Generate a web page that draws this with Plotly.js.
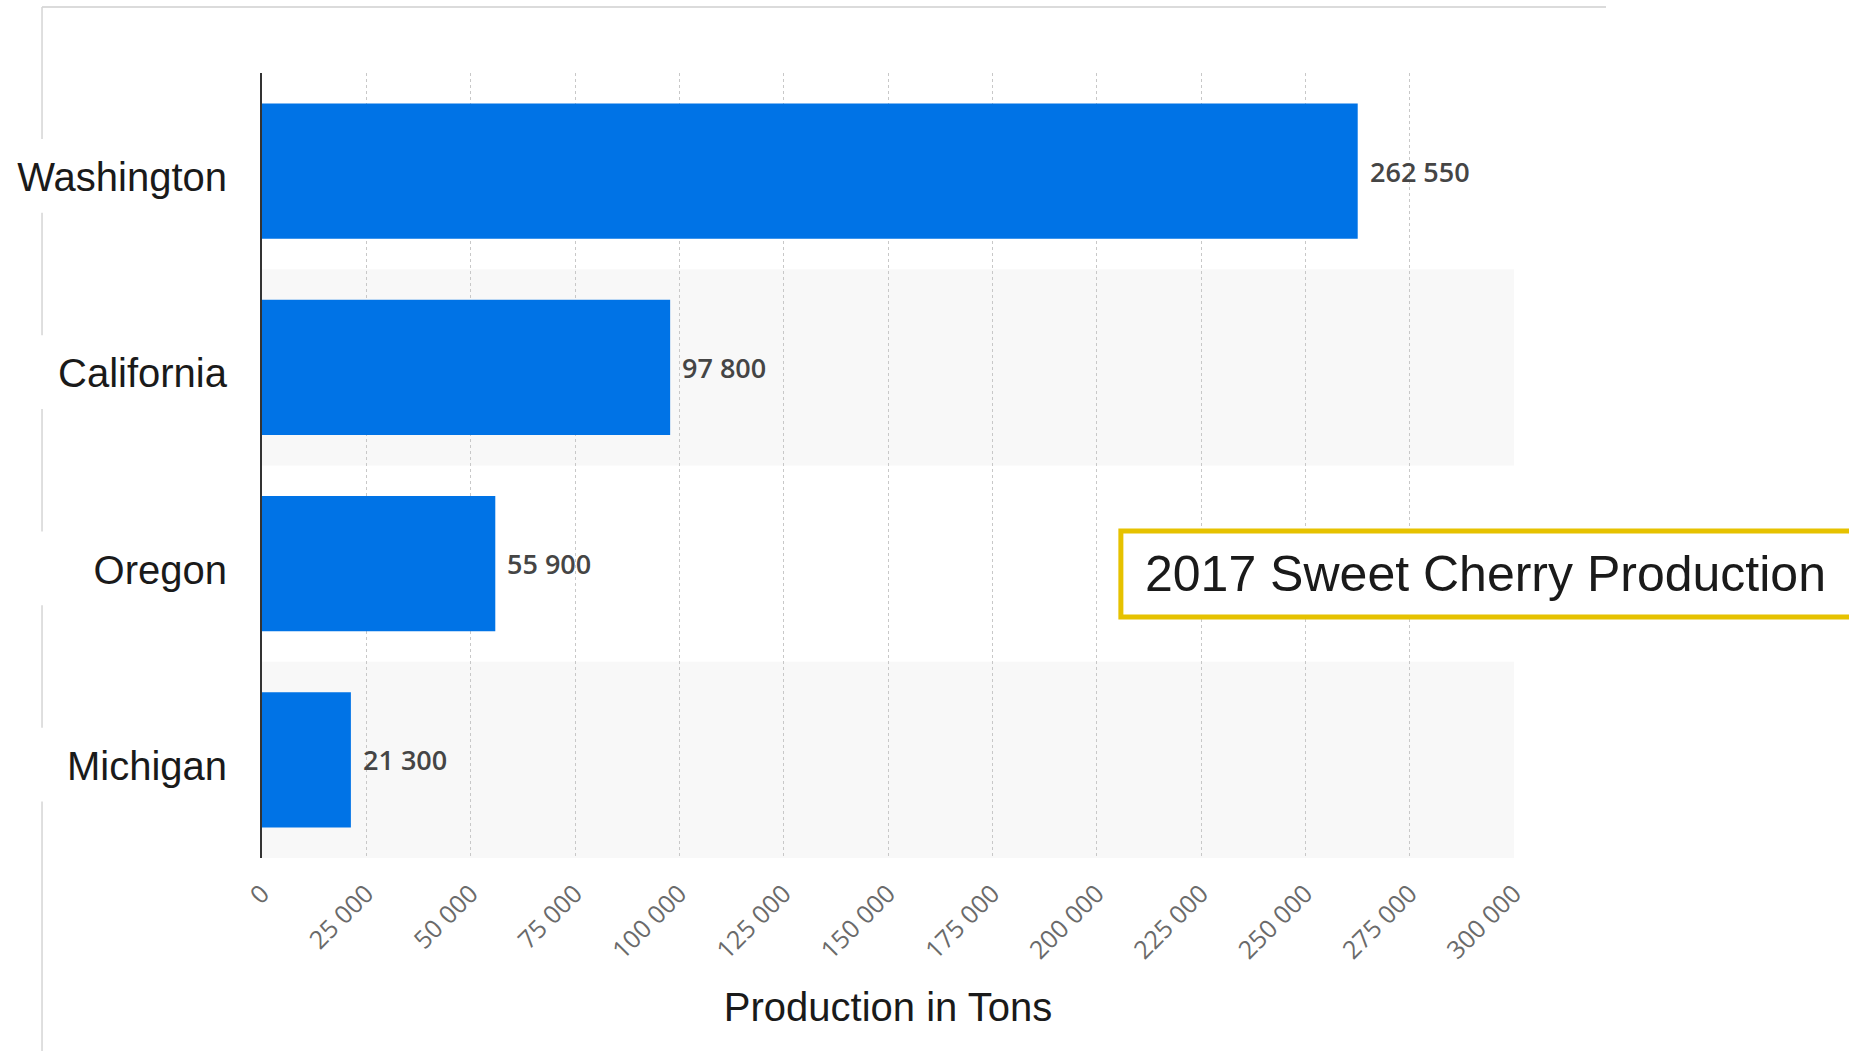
<!DOCTYPE html>
<html>
<head>
<meta charset="utf-8">
<script src="https://cdn.plot.ly/plotly-3.0.1.min.js"></script>
<style>html,body{margin:0;padding:0;background:#fff;}#chart{width:1849px;height:1051px;}</style>
</head>
<body>
<div id="chart"></div>
<script>
// ---- data ----
const states = ["Washington", "California", "Oregon", "Michigan"];
const production = [262550, 97800, 55900, 21300];
const chartTitle = "2017 Sweet Cherry Production";
const xAxisTitle = "Production in Tons";
const xMax = 300000;
const xStep = 25000;

function fmt(v) { return String(v).replace(/\B(?=(\d{3})+(?!\d))/g, " "); }

const blue = "#0073e6";
const labelFont = "Liberation Sans, Arial, sans-serif";

const trace = {
  type: "bar",
  orientation: "h",
  x: production,
  y: states,
  marker: { color: blue, line: { width: 0 } },
  hoverinfo: "x+y",
  cliponaxis: false
};

const shapes = [];
// alternating category bands
states.forEach((s, i) => {
  if (i % 2 === 1) {
    shapes.push({ type: "rect", xref: "x", yref: "y", x0: 0, x1: xMax, y0: i - 0.5, y1: i + 0.5,
      fillcolor: "#f8f8f8", line: { width: 0 }, layer: "below" });
  }
});
// frame lines (top and left)
const n = states.length;
shapes.push({ type: "line", xref: "paper", yref: "paper", x0: -0.1757, x1: 1.0735, y0: 1.0841, y1: 1.0841,
  line: { color: "#cfcfcf", width: 1.5 } });
const gapHalf = 0.047;
let prevTop = 1.0841;
states.forEach((s, i) => {
  const c = 1 - (i + 0.5) / n - 0.006;
  shapes.push({ type: "line", xref: "paper", yref: "paper", x0: -0.1757, x1: -0.1757, y0: prevTop, y1: c + gapHalf,
    line: { color: "#d5d5d5", width: 1.5 } });
  prevTop = c - gapHalf;
});
shapes.push({ type: "line", xref: "paper", yref: "paper", x0: -0.1757, x1: -0.1757, y0: prevTop, y1: -0.25,
  line: { color: "#d5d5d5", width: 1.5 } });
// title box
shapes.push({ type: "rect", xref: "paper", yref: "paper", x0: 0.686, x1: 1.30, y0: 0.307, y1: 0.4166,
  fillcolor: "#ffffff", line: { color: "#e6c200", width: 5 }, layer: "above" });

const annotations = production.map((v, i) => ({
  x: v, y: states[i], xref: "x", yref: "y", text: fmt(v), showarrow: false,
  xanchor: "left", yanchor: "middle", xshift: 10,
  font: { family: "Open Sans, sans-serif", size: 27, color: "#454545", weight: 600 }
}));
annotations.push({
  xref: "paper", yref: "paper", x: 0.7037, y: 0.3618, xanchor: "left", yanchor: "middle",
  text: chartTitle, showarrow: false,
  font: { family: labelFont, size: 50, color: "#1a1a1a" }
});

const layout = {
  width: 1849, height: 1051,
  margin: { l: 262, r: 335, t: 73, b: 193, pad: 0 },
  paper_bgcolor: "#ffffff", plot_bgcolor: "rgba(0,0,0,0)",
  separators: ". ",
  showlegend: false,
  bargap: 0.31,
  xaxis: {
    range: [0, xMax], dtick: xStep, tick0: 0, tickformat: ",d",
    tickangle: -45, ticks: "", ticklabelstandoff: 15,
    tickfont: { family: "Open Sans, sans-serif", size: 25, color: "#6a6a6a" },
    showgrid: true, gridcolor: "#c8c8c8", griddash: "dot", gridwidth: 1,
    zeroline: false, showline: false, automargin: false,
    title: { text: xAxisTitle, standoff: 28, font: { family: labelFont, size: 40, color: "#1a1a1a" } }
  },
  yaxis: {
    type: "category", autorange: "reversed",
    showline: true, linecolor: "#333333", linewidth: 2,
    showgrid: false, zeroline: false, ticks: "",
    ticklabelstandoff: 25, ticklabelshift: -6, automargin: false,
    tickfont: { family: labelFont, size: 40, color: "#1a1a1a" }
  },
  shapes: shapes,
  annotations: annotations
};

Plotly.newPlot("chart", [trace], layout, { displayModeBar: false, staticPlot: true });
</script>
</body>
</html>
